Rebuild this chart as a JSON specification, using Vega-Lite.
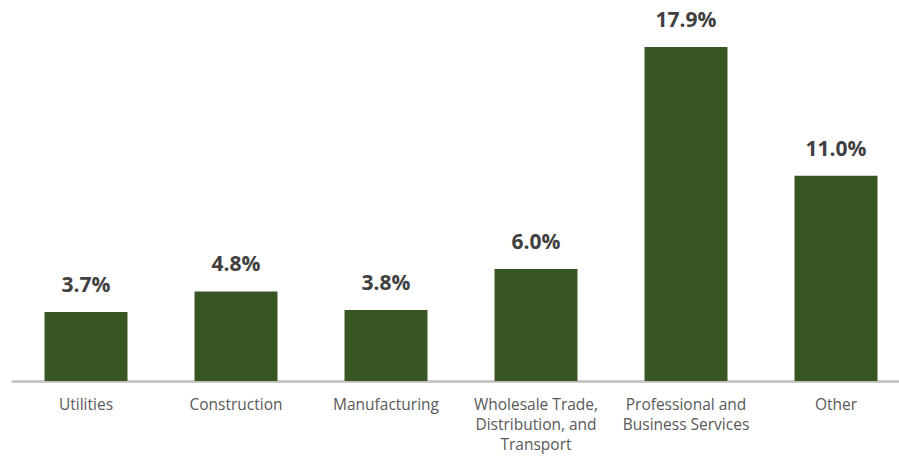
{
  "$schema": "https://vega.github.io/schema/vega-lite/v6.json",
  "width": 900,
  "height": 381,
  "autosize": "none",
  "padding": {"left": 11, "top": 0, "right": 0, "bottom": 79},
  "background": "white",
  "config": {"view": {"stroke": null}},
  "data": {
    "values": [
      {"sector": "Utilities", "share": 0.037},
      {"sector": "Construction", "share": 0.048},
      {"sector": "Manufacturing", "share": 0.038},
      {"sector": "Wholesale Trade,|Distribution, and|Transport", "share": 0.060},
      {"sector": "Professional and|Business Services", "share": 0.179},
      {"sector": "Other", "share": 0.110}
    ]
  },
  "encoding": {
    "x": {
      "field": "sector",
      "type": "nominal",
      "sort": null,
      "scale": {"paddingInner": 0.447, "paddingOuter": 0.2235},
      "axis": {
        "title": null,
        "labelAngle": 0,
        "labelExpr": "split(datum.label, '|')",
        "labelFont": "Open Sans",
        "labelFontSize": 15.5,
        "labelColor": "#595959",
        "labelLineHeight": 20,
        "labelPadding": 16,
        "ticks": false,
        "domainColor": "#bfbfbf",
        "domainWidth": 2.5,
        "labelLimit": 200
      }
    },
    "y": {
      "field": "share",
      "type": "quantitative",
      "scale": {"domain": [0, 0.2042], "nice": false},
      "axis": null
    }
  },
  "layer": [
    {"mark": {"type": "bar", "color": "#375623"}},
    {
      "mark": {
        "type": "text",
        "baseline": "middle",
        "dy": -26,
        "font": "Open Sans",
        "fontWeight": "bold",
        "fontSize": 21,
        "color": "#404040"
      },
      "encoding": {"text": {"field": "share", "type": "quantitative", "format": ".1%"}}
    }
  ]
}
